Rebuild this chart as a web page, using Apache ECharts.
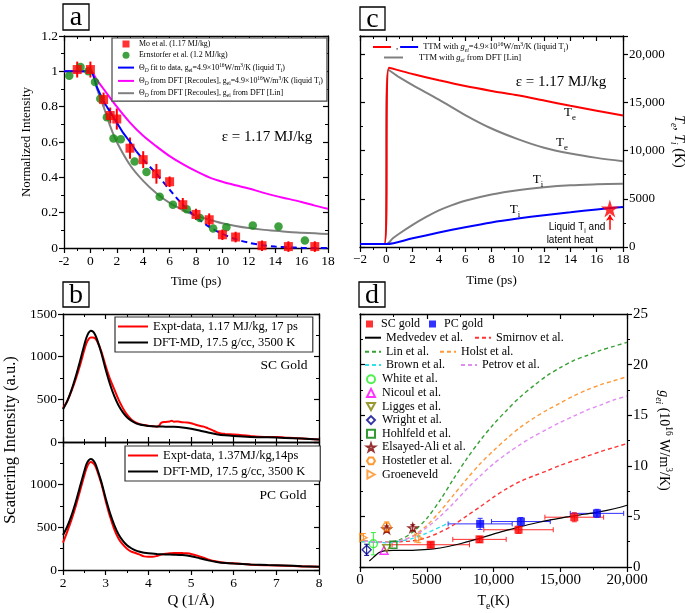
<!DOCTYPE html>
<html><head><meta charset="utf-8">
<script src="https://cdn.jsdelivr.net/npm/echarts@6/dist/echarts.min.js"></script>
<style>html,body{margin:0;padding:0;background:#fff}#c{width:685px;height:613px}</style>
</head><body><div id="c"></div>
<script>
// ================= DATA =================
// Panel a: normalized intensity vs time
const aMoX = [-1,0,1,1.5,2,3,4,5,6,7,8,9,10,11,13,15,17];
const aMoY = [1.01,1.01,0.84,0.75,0.73,0.565,0.50,0.42,0.375,0.245,0.19,0.16,0.075,0.062,0.013,0.008,0.008];
const aMoErr = [0.045,0.045,0.04,0.045,0.06,0.06,0.048,0.056,0.03,0.038,0.032,0.036,0.03,0.03,0.03,0.03,0.03];
const aErnX = [-1.6,-0.75,-0.15,0.35,0.75,1.25,1.75,2.3,3.35,4.25,5.25,6.25,7.3,8.3,9.3,10.3,12.3,14.25,16.25];
const aErnY = [0.975,1.025,1.0,0.94,0.845,0.74,0.62,0.615,0.49,0.43,0.29,0.245,0.22,0.17,0.11,0.117,0.128,0.122,0.043];
const aFitX = [-2,0,0.5,1,1.5,2,2.5,3,3.5];
const aFitY = [1,1,0.91,0.83,0.77,0.71,0.65,0.6,0.545];
const aFitDX = [3.5,4,5,6,7,8,9,10,11,12,13,14,15,16,17,18];
const aFitDY = [0.545,0.5,0.42,0.33,0.245,0.175,0.12,0.08,0.05,0.03,0.016,0.008,0.004,0.001,0,0];
const aMagX = [-2,0,0.5,1,2,3,4,5,6,7,8,9,10,11,12,13,14,15,16,17,18];
const aMagY = [1,1,0.95,0.9,0.8,0.71,0.635,0.575,0.52,0.475,0.435,0.4,0.375,0.355,0.337,0.315,0.295,0.278,0.26,0.24,0.222];
const aGrayX = [-2,0,0.5,1,1.5,2,3,4,5,6,7,8,9,10,11,12,13,14,15,16,17,18];
const aGrayY = [1,1,0.9,0.8,0.69,0.6,0.47,0.38,0.31,0.255,0.215,0.183,0.16,0.14,0.125,0.113,0.104,0.097,0.091,0.087,0.083,0.079];

// Panel c: temperatures vs time
const cTeX = [-2,-0.15,0.2,2,4,6,8,10,12,14,16,18];
const cTeY = [300,300,18600,17950,17300,16700,16200,15750,15200,14650,14150,13650];
const cTiX = [-2,0,2,4,6,8,10,12,14,16,18];
const cTiY = [300,300,900,1500,2050,2550,2950,3300,3600,3900,4150];
const cGTeX = [-2,-0.15,0.15,1,2,4,6,8,10,12,14,16,18];
const cGTeY = [300,300,18400,17600,16800,15300,13700,12300,11200,10300,9700,9250,8900];
const cGTiX = [-2,0,0.5,1,2,3,4,5,6,8,10,12,14,16,18];
const cGTiY = [300,300,900,1400,2300,3100,3800,4350,4800,5450,5900,6200,6400,6500,6570];
const cStar = [[17,4000]];
const cArrow = [[17,1800],[17,3350]];

// Panel b: scattering intensity vs Q
const bDftX = [2,2.1,2.2,2.3,2.4,2.5,2.55,2.6,2.65,2.7,2.75,2.8,2.9,3,3.1,3.2,3.3,3.4,3.5,3.6,3.7,3.8,3.9,4,4.2,4.4,4.6,4.8,5,5.2,5.4,5.6,5.8,6,6.4,6.8,7.2,7.6,8];
const bSCdftY = [385,480,610,770,950,1140,1225,1280,1305,1295,1260,1200,1040,850,680,540,430,350,290,250,222,205,195,188,182,180,178,170,155,135,112,92,78,70,60,55,48,40,30];
const bPCdftY = [410,510,640,800,980,1160,1240,1285,1300,1290,1255,1190,1030,840,670,530,420,345,290,255,230,213,202,195,188,183,180,175,162,138,113,95,82,75,65,58,52,45,38];
const bSCexpX = [2,2.1,2.2,2.3,2.4,2.5,2.55,2.6,2.65,2.7,2.75,2.8,2.9,3,3.1,3.2,3.3,3.4,3.5,3.6,3.7,3.8,3.9,4,4.1,4.2,4.25,4.3,4.4,4.5,4.55,4.6,4.7,4.8,4.9,5,5.1,5.2,5.3,5.4,5.5,5.6,5.7,5.8,6,6.2,6.4,6.6,6.8,7,7.2,7.4,7.6,7.8,8];
const bSCexpY = [395,480,600,740,900,1080,1160,1205,1225,1225,1215,1180,1060,890,740,620,500,400,320,265,230,210,198,190,185,180,190,225,235,240,248,238,240,232,228,220,205,190,180,160,140,115,100,95,88,80,70,62,58,58,52,48,42,35,28];
const bPCexpX = [2,2.1,2.2,2.3,2.4,2.5,2.55,2.6,2.65,2.7,2.75,2.8,2.9,3,3.1,3.2,3.3,3.4,3.5,3.6,3.7,3.8,3.9,4,4.1,4.2,4.3,4.4,4.5,4.6,4.7,4.8,4.9,5,5.2,5.4,5.6,5.8,6,6.4,6.8,7.2,7.6,8];
const bPCexpY = [320,450,590,750,930,1110,1190,1245,1265,1255,1225,1165,1010,810,630,480,370,300,250,215,200,180,160,155,155,165,180,190,195,200,200,198,195,188,160,125,100,85,78,62,55,50,42,38];

// Panel d: g_ei vs Te
const dMedX = [700,1000,1400,1800,2500,3500,4500,5500,6500,7500,8500,9500,10500,11500,12500,13500,14500,15500,16500,17500,18500,19500,20000];
const dMedY = [0.6,0.95,1.4,1.6,1.65,1.65,1.7,1.8,2.0,2.3,2.65,3.05,3.45,3.8,4.15,4.45,4.7,4.95,5.15,5.35,5.6,5.9,6.1];
const dX = [300,1000,2000,3000,4000,5000,6000,7000,8000,9000,10000,11000,12000,13000,14000,15000,16000,17000,18000,19000,20000];
const dSmirY = [2.55,2.5,2.45,2.5,2.6,2.9,3.45,4.15,5.05,5.95,6.9,7.75,8.45,9.0,9.5,10.05,10.5,10.95,11.4,11.8,12.2];
const dLinY = [2.55,2.5,2.45,2.7,3.5,4.8,6.6,8.7,10.7,12.5,14.1,15.5,16.8,17.9,18.9,19.7,20.4,20.9,21.4,21.8,22.2];
const dHolstY = [2.55,2.5,2.45,2.6,3.1,4.1,5.5,7.1,8.7,10.2,11.5,12.7,13.8,14.7,15.5,16.2,16.9,17.5,18.0,18.4,18.8];
const dPetrovY = [2.55,2.5,2.45,2.6,3.05,3.9,5.0,6.3,7.7,9.0,10.2,11.2,12.1,12.9,13.6,14.3,14.9,15.5,16.0,16.5,16.9];
const dBrownX = [100,1000,2000,3000,4000,5000,6000,6700];
const dBrownY = [2.5,2.45,2.4,2.55,2.85,3.35,3.95,4.4];
const dSCX = [5300,8950,11875,16050];
const dSCY = [2.2,2.73,3.68,4.92];
const dSCXerr = [2900,2000,2600,2200];
const dSCYerr = [0.25,0.3,0.35,0.45];
const dPCX = [9000,12050,17750];
const dPCY = [4.26,4.49,5.3];
const dPCXerr = [2400,2200,2000];
const dPCYerr = [0.55,0.4,0.4];
const dWhiteX = [1000], dWhiteY = [2.3], dWhiteErr = [1.1];
const dNicoulX = [1800], dNicoulY = [1.65];
const dLiggesX = [2000], dLiggesY = [1.85];
const dWrightX = [500], dWrightY = [1.7], dWrightErr = [0.55];
const dHohlX = [2500], dHohlY = [2.2];
const dElsX = [2000,3950], dElsY = [3.75,3.87], dElsErr = [0.3,0.3];
const dHostX = [2000], dHostY = [3.95], dHostErr = [0.5];
const dGroenX = [250,4400], dGroenY = [2.9,2.85], dGroenErr = [0.4,0.45];

// Legend texts
const LBL = {
  aMo: 'Mo et al. (1.17 MJ/kg)',
  aErn: 'Ernstorfer et al. (1.2 MJ/kg)',
  aFit: 'Θ&{D} fit to data, g_{ei}=4.9×10^{16}W/m^{3}/K (liquid T_{i})',
  aMag: 'Θ&{D} from DFT [Recoules], g_{ei}=4.9×10^{16}W/m^{3}/K (liquid T_{i})',
  aGray: 'Θ&{D} from DFT [Recoules], g_{ei} from DFT [Lin]',
  cTi: 'TTM with %{g}&{ei}=4.9×10^{16}W/m^{3}/K (liquid T_{i})',
  cGTe: 'TTM with %{g}&{ei} from DFT [Lin]',
  bSCexp: 'Expt-data, 1.17 MJ/kg, 17 ps',
  bSCdft: 'DFT-MD, 17.5 g/cc, 3500 K',
  bPCexp: 'Expt-data, 1.37MJ/kg,14ps',
  bPCdft: 'DFT-MD, 17.5 g/cc, 3500 K'
};

// ================= HELPERS =================
const SERIF = "'Liberation Serif','Times New Roman',serif";
const SANS = "'Liberation Sans',Arial,sans-serif";
const zip = (xs, ys) => xs.map((x, i) => [x, ys[i]]);

function rt(s){
  let out='', buf='', i=0;
  const fl=()=>{ if(buf){ out+='{n|'+buf+'}'; buf=''; } };
  const map={'_':'sub','^':'sup','%':'it','&':'isub'};
  while(i<s.length){
    const c=s[i];
    if(map[c] && s[i+1]==='{'){
      fl(); const j=s.indexOf('}',i); out+='{'+map[c]+'|'+s.slice(i+2,j)+'}'; i=j+1;
    } else { buf+=c; i++; }
  }
  fl(); return out;
}
function mkRich(fs, fam, color, lh, gap){
  fam=fam||SERIF; color=color||'#000'; lh=lh||Math.round(fs*1.45);
  const s=fs*0.68;
  return {
    n:{fontSize:fs,fontFamily:fam,lineHeight:lh,color:color},
    it:{fontSize:fs,fontFamily:fam,fontStyle:'italic',lineHeight:lh,color:color},
    sub:{fontSize:s,fontFamily:fam,verticalAlign:'bottom',color:color},
    isub:{fontSize:s,fontFamily:fam,fontStyle:'italic',verticalAlign:'bottom',color:color},
    sup:{fontSize:s,fontFamily:fam,verticalAlign:'top',color:color},
    gap:{width:gap||11,fontSize:fs,lineHeight:lh}
  };
}
const fmtK = v => v>=10000 ? (v/1000)+',000' : ''+v;
const plain = v => ''+v;

function ax(o){
  return {
    type:'value', gridIndex:o.g, min:o.min, max:o.max, interval:o.interval, position:o.pos,
    splitLine:{show:false},
    axisLine:{show:true,onZero:false,lineStyle:{color:'#000',width:1.3}},
    axisTick:{show:true,inside:!!o.inside,length:5,lineStyle:{color:'#000',width:1.2}},
    minorTick:{show:true,splitNumber:2,length:3,lineStyle:{color:'#000',width:1}},
    axisLabel:{show:!!o.labels,color:'#000',fontFamily:SERIF,fontSize:o.fs||13,margin:o.margin||6,formatter:o.fmt||plain,showMinLabel:true,showMaxLabel:true,hideOverlap:false},
    name:o.name||'', nameLocation:'middle', nameGap:o.nameGap||0, nameRotate:o.nameRotate,
    nameTextStyle:{color:'#000',fontFamily:SERIF,fontSize:o.nfs||13,rich:o.nrich}
  };
}
function errSeries(data, color, xi, yi, cap, w){
  return {type:'custom', xAxisIndex:xi, yAxisIndex:yi, data:data, encode:{x:0,y:1}, z:1, silent:true,
    renderItem:function(p, api){
      const x=api.value(0), y=api.value(1), ex=api.value(2), ey=api.value(3);
      const st={stroke:color,lineWidth:w,fill:null};
      const ch=[];
      const L=(x1,y1,x2,y2)=>ch.push({type:'line',shape:{x1:x1,y1:y1,x2:x2,y2:y2},style:st});
      if(ey>0){const a=api.coord([x,y-ey]), b=api.coord([x,y+ey]); L(a[0],a[1],b[0],b[1]);
        if(cap){L(a[0]-cap,a[1],a[0]+cap,a[1]);L(b[0]-cap,b[1],b[0]+cap,b[1]);}}
      if(ex>0){const a=api.coord([x-ex,y]), b=api.coord([x+ex,y]); L(a[0],a[1],b[0],b[1]);
        if(cap){L(a[0],a[1]-cap,a[0],a[1]+cap);L(b[0],b[1]-cap,b[0],b[1]+cap);}}
      return {type:'group',children:ch};
    }};
}
function lineS(name, xs, ys, xi, yi, color, width, type, smooth){
  return {name:name, type:'line', xAxisIndex:xi, yAxisIndex:yi, data:zip(xs,ys), symbol:'none',
    smooth:smooth||0, itemStyle:{color:color}, lineStyle:{color:color,width:width,type:type||'solid'}, z:3, animation:false};
}
function openS(name, xs, ys, symbol, color, size){
  return {name:name, type:'scatter', xAxisIndex:8, yAxisIndex:8, data:zip(xs,ys), symbol:symbol, symbolSize:size||8, symbolKeepAspect:true,
    itemStyle:{color:'rgba(255,255,255,0)',borderColor:color,borderWidth:1.4}, z:6};
}
const STAR='path://M50,0 L61,35 L98,35 L68,57 L79,91 L50,70 L21,91 L32,57 L2,35 L39,35 Z';
const HEX='path://M25,0 L75,0 L100,43 L75,86 L25,86 L0,43 Z';
const SQ='path://M0,0 L10,0 L10,10 L0,10 Z';
const TRI_DOWN='path://M0,0 L10,0 L5,9 Z';
const TRI_RIGHT='path://M0,0 L9,5 L0,10 Z';
const errData = (xs, ys, ex, ey) => xs.map((x,i)=>[x, ys[i], ex?ex[i]:0, ey?ey[i]:0]);
const LI = n => ({name:n, itemStyle:{opacity:0}});   // legend entry for a line (no centre symbol)

function T(x,y,text,fs,extra){
  return {type:'text',x:x,y:y,z:50,style:Object.assign({text:text,fontFamily:SERIF,fontSize:fs,fill:'#000',
    align:'center',verticalAlign:'middle',textAlign:'center',textVerticalAlign:'middle'},extra||{})};
}
function RT(x,y,s,fs,fam,color){
  return {type:'text',x:x,y:y,z:50,style:{text:rt(s),rich:mkRich(fs,fam,color),align:'center',verticalAlign:'middle',textAlign:'center',textVerticalAlign:'middle'}};
}
function box(x,y,w,h,letter){
  return [{type:'rect',z:50,shape:{x:x,y:y,width:w,height:h},style:{fill:'#fff',stroke:'#000',lineWidth:1.3}},
          T(x+w/2,y+h/2+1,letter,28)];
}
const dLegText = {color:'#000',fontFamily:SERIF,fontSize:12};

// ================= OPTION =================
const chart = echarts.init(document.getElementById('c'), null, {renderer:'canvas'});
const option = {
  animation:false,
  backgroundColor:'#fff',
  textStyle:{fontFamily:SERIF},
  grid:[
    {left:64,top:36,width:264,height:212,outerBoundsMode:'none'},
    {left:360,top:36,width:263,height:211,outerBoundsMode:'none'},
    {left:63,top:314,width:256,height:128,outerBoundsMode:'none'},
    {left:63,top:442,width:256,height:128,outerBoundsMode:'none'},
    {left:360,top:314,width:267,height:253,outerBoundsMode:'none'}
  ],
  xAxis:[
    ax({g:0,pos:'bottom',min:-2,max:18,interval:2,labels:true,fs:13.5,name:'Time (ps)',nameGap:27,nfs:13}),
    ax({g:0,pos:'top',min:-2,max:18,interval:2,inside:true}),
    ax({g:1,pos:'bottom',min:-2,max:18,interval:2,labels:true,fs:13,fmt:v=>v<0?'\u2212'+(-v):''+v,name:'Time (ps)',nameGap:27,nfs:13}),
    ax({g:1,pos:'top',min:-2,max:18,interval:2,inside:true}),
    ax({g:2,pos:'bottom',min:2,max:8,interval:1,inside:true}),
    ax({g:2,pos:'top',min:2,max:8,interval:1,inside:true}),
    ax({g:3,pos:'bottom',min:2,max:8,interval:1,labels:true,fs:13.5,name:'Q (1/Å)',nameGap:24,nfs:15}),
    ax({g:3,pos:'top',min:2,max:8,interval:1,inside:true}),
    ax({g:4,pos:'bottom',min:0,max:20000,interval:5000,labels:true,fs:15,fmt:fmtK,name:rt('T_{e}(K)'),nameGap:24,nrich:mkRich(14)}),
    ax({g:4,pos:'top',min:0,max:20000,interval:5000,inside:true})
  ],
  yAxis:[
    ax({g:0,pos:'left',min:0,max:1.2,interval:0.2,labels:true,fs:13.5,fmt:v=>''+Math.round(v*10)/10,name:'Normalized Intensity',nameGap:31,nfs:13}),
    ax({g:0,pos:'right',min:0,max:1.2,interval:0.2,inside:true}),
    ax({g:1,pos:'right',min:0,max:21900,interval:5000,labels:true,fs:13,fmt:v=>(v%5000)?'':fmtK(v),name:rt('%{T}&{e}, %{T}&{i} (K)'),nameGap:46,nameRotate:-90,nrich:mkRich(14)}),
    ax({g:1,pos:'left',min:0,max:21900,interval:5000,inside:true}),
    ax({g:2,pos:'left',min:0,max:1500,interval:500,labels:true,fs:13.5}),
    ax({g:2,pos:'right',min:0,max:1500,interval:500,inside:true}),
    ax({g:3,pos:'left',min:0,max:1500,interval:500,labels:true,fs:13.5,fmt:v=>v>=1500?'':''+v}),
    ax({g:3,pos:'right',min:0,max:1500,interval:500,inside:true}),
    ax({g:4,pos:'right',min:0,max:25,interval:5,labels:true,fs:15,name:rt('%{g}&{ei} (10^{16} W/m^{3}/K)'),nameGap:27,nameRotate:-90,nrich:mkRich(14)}),
    ax({g:4,pos:'left',min:0,max:25,interval:5,inside:true})
  ],
  legend:[
    {data:[{name:'aMo',icon:SQ},'aErn',LI('aFit'),LI('aMag'),LI('aGray')], orient:'vertical', left:112, top:38, padding:[2,4,3,5], itemGap:3.3,
     itemWidth:16, itemHeight:7, symbolKeepAspect:true, borderColor:'#444', borderWidth:1.2, backgroundColor:'#fff',
     formatter:n=>rt(LBL[n]), textStyle:{color:'#000',fontFamily:SERIF,fontSize:7.9,rich:mkRich(7.9,SERIF,'#000',10)}},
    {data:[LI('cTe'),LI('cTi')], orient:'horizontal', left:372, top:41, padding:0, itemGap:1, itemWidth:18, itemHeight:6,
     formatter:n=>n==='cTe'?'{n|,}':rt(LBL[n]), textStyle:{color:'#000',rich:mkRich(8.5,SERIF,'#000',12)}},
    {data:[LI('cGTe')], orient:'horizontal', left:383, top:53, padding:0, itemWidth:19, itemHeight:6,
     formatter:n=>'{gap| }'+rt(LBL[n]), textStyle:{color:'#000',rich:mkRich(8.5,SERIF,'#000',12,11)}},
    {data:[LI('bSCexp'),LI('bSCdft')], orient:'vertical', left:115, top:317, padding:[3,15,3,2], itemGap:3, itemWidth:30, itemHeight:8,
     borderColor:'#333', borderWidth:1.2, backgroundColor:'#fff', formatter:n=>LBL[n], textStyle:{color:'#000',fontFamily:SERIF,fontSize:12.5}},
    {data:[LI('bPCexp'),LI('bPCdft')], orient:'vertical', left:125, top:446, padding:[3,15,3,2], itemGap:3, itemWidth:30, itemHeight:8,
     borderColor:'#333', borderWidth:1.2, backgroundColor:'#fff', formatter:n=>LBL[n], textStyle:{color:'#000',fontFamily:SERIF,fontSize:12.5}},
    {data:['SC gold','PC gold'], orient:'horizontal', left:366, top:318, padding:0, itemGap:9, itemWidth:7, itemHeight:7, symbolKeepAspect:true,
     formatter:n=>'{gap| }{t|'+n+'}', textStyle:{color:'#000',rich:{gap:{width:3,fontSize:12},t:{fontSize:12,fontFamily:SERIF,color:'#000'}}}},
    {data:[LI('Medvedev et al.'),LI('Smirnov et al.')], orient:'horizontal', left:364, top:331.7, padding:0, itemGap:11, itemWidth:16, itemHeight:7, textStyle:dLegText},
    {data:[LI('Lin et al.'),LI('Holst et al.')], orient:'horizontal', left:364, top:345.7, padding:0, itemGap:10, itemWidth:16, itemHeight:7, textStyle:dLegText},
    {data:[LI('Brown et al.'),LI('Petrov et al.')], orient:'horizontal', left:364, top:359, padding:0, itemGap:15, itemWidth:16, itemHeight:7, textStyle:dLegText},
    {data:['White et al.','Nicoul et al.','Ligges et al.','Wright et al.','Hohlfeld et al.','Elsayed-Ali et al.','Hostetler et al.','Groeneveld'],
     orient:'vertical', left:366, top:373.3, padding:0, itemGap:1.6, itemWidth:8, itemHeight:8, symbolKeepAspect:true,
     formatter:n=>'{gap| }{t|'+n+'}', textStyle:{color:'#000',rich:{gap:{width:2,fontSize:12},t:{fontSize:12,fontFamily:SERIF,color:'#000'}}}}
  ],
  series:[
    // ---- panel a
    lineS('aGray', aGrayX, aGrayY, 0, 0, '#808080', 2, 'solid', 0.3),
    lineS('aMag', aMagX, aMagY, 0, 0, '#ff00ff', 2, 'solid', 0.3),
    lineS('aFit', aFitX, aFitY, 0, 0, '#0000ff', 2, 'solid', 0.2),
    lineS('aFitD', aFitDX, aFitDY, 0, 0, '#0000ff', 2, [6,4], 0.3),
    errSeries(errData(aMoX,aMoY,null,aMoErr), '#ff0000', 0, 0, 0, 2),
    {name:'aErn', type:'scatter', xAxisIndex:0, yAxisIndex:0, data:zip(aErnX,aErnY), symbol:'circle', symbolSize:8.5, symbolKeepAspect:true, itemStyle:{color:'#0f8a0f'}, z:4},
    {name:'aMo', type:'scatter', xAxisIndex:0, yAxisIndex:0, data:zip(aMoX,aMoY), symbol:'rect', symbolSize:9, symbolKeepAspect:true, itemStyle:{color:'#ff0000'}, z:5},
    // ---- panel c
    lineS('cGTi', cGTiX, cGTiY, 2, 2, '#808080', 2, 'solid', 0.3),
    lineS('cGTe', cGTeX, cGTeY, 2, 2, '#808080', 2, 'solid', 0.3),
    lineS('cTe', cTeX, cTeY, 2, 2, '#ff0000', 2, 'solid', 0.2),
    lineS('cTi', cTiX, cTiY, 2, 2, '#0000ff', 2, 'solid', 0.3),
    {name:'cStar', type:'scatter', xAxisIndex:2, yAxisIndex:2, data:cStar, symbol:STAR, symbolSize:18, itemStyle:{color:'#ff0000'}, z:6,
     markLine:{silent:true, symbol:['none','arrow'], symbolSize:6, label:{show:false},
       lineStyle:{color:'#ff0000',width:1.5,type:'solid'},
       data:[[{coord:cArrow[0]},{coord:cArrow[1]}]]}},
    // ---- panel b
    lineS('bSCexp', bSCexpX, bSCexpY, 4, 4, '#ff0000', 2, 'solid', 0.3),
    lineS('bSCdft', bDftX, bSCdftY, 4, 4, '#000000', 2, 'solid', 0.3),
    lineS('bPCexp', bPCexpX, bPCexpY, 6, 6, '#ff0000', 2, 'solid', 0.3),
    lineS('bPCdft', bDftX, bPCdftY, 6, 6, '#000000', 2, 'solid', 0.3),
    // ---- panel d
    lineS('Medvedev et al.', dMedX, dMedY, 8, 8, '#000000', 1.2, 'solid', 0.3),
    lineS('Smirnov et al.', dX, dSmirY, 8, 8, '#ff3333', 1.4, [4,3], 0.3),
    lineS('Lin et al.', dX, dLinY, 8, 8, '#34a034', 1.4, [4,3], 0.3),
    lineS('Holst et al.', dX, dHolstY, 8, 8, '#ff9a3a', 1.4, [4,3], 0.3),
    lineS('Brown et al.', dBrownX, dBrownY, 8, 8, '#2ee0e8', 1.4, [4,3], 0.3),
    lineS('Petrov et al.', dX, dPetrovY, 8, 8, '#e08cf2', 1.4, [4,3], 0.3),
    errSeries(errData(dSCX,dSCY,dSCXerr,dSCYerr), '#ff2a2a', 8, 8, 2.5, 1),
    errSeries(errData(dPCX,dPCY,dPCXerr,dPCYerr), '#3030ff', 8, 8, 2.5, 1),
    errSeries(errData(dWhiteX,dWhiteY,null,dWhiteErr), '#33ee33', 8, 8, 2.5, 1),
    errSeries(errData(dWrightX,dWrightY,null,dWrightErr), '#000090', 8, 8, 2.5, 1),
    errSeries(errData(dElsX,dElsY,null,dElsErr), '#800000', 8, 8, 2.5, 1),
    errSeries(errData(dHostX,dHostY,null,dHostErr), '#ff8000', 8, 8, 2.5, 1),
    errSeries(errData(dGroenX,dGroenY,null,dGroenErr), '#ff8c1a', 8, 8, 2.5, 1),
    {name:'SC gold', type:'scatter', xAxisIndex:8, yAxisIndex:8, data:zip(dSCX,dSCY), symbol:'rect', symbolSize:8, symbolKeepAspect:true, itemStyle:{color:'#ff0000'}, z:6},
    {name:'PC gold', type:'scatter', xAxisIndex:8, yAxisIndex:8, data:zip(dPCX,dPCY), symbol:'rect', symbolSize:8, symbolKeepAspect:true, itemStyle:{color:'#0000ff'}, z:6},
    openS('White et al.', dWhiteX, dWhiteY, 'circle', '#22ee22', 8),
    openS('Nicoul et al.', dNicoulX, dNicoulY, 'triangle', '#ff00ff', 8),
    openS('Ligges et al.', dLiggesX, dLiggesY, TRI_DOWN, '#808000', 8),
    openS('Wright et al.', dWrightX, dWrightY, 'diamond', '#000090', 9),
    openS('Hohlfeld et al.', dHohlX, dHohlY, 'rect', '#008000', 7),
    openS('Elsayed-Ali et al.', dElsX, dElsY, STAR, '#800000', 9),
    openS('Hostetler et al.', dHostX, dHostY, HEX, '#ff8000', 9),
    openS('Groeneveld', dGroenX, dGroenY, TRI_RIGHT, '#ff8c1a', 8)
  ],
  graphic:[].concat(
    box(63,4,26,26,'a'), box(360,7,25,23,'c'), box(63,282,26,25,'b'), box(359,282,26,25,'d'),
    [
      T(267,137,'ε = 1.17 MJ/kg',15),
      T(561,82,'ε = 1.17 MJ/kg',15),
      RT(570,113,'T_{e}',13,SERIF,'#ff0000'),
      RT(562,143,'T_{e}',13,SERIF,'#808080'),
      RT(538,180,'T_{i}',13,SERIF,'#808080'),
      RT(515,210,'T_{i}',13,SERIF,'#0000ff'),
      RT(577,227,'Liquid T_{i} and',10,SANS,'#ff2020'),
      RT(570,240,'latent heat',10,SANS,'#ff2020'),
      T(284,365,'SC Gold',13.5),
      T(283,495,'PC Gold',13.5),
      Object.assign(T(11,440,'Scattering Intensity (a.u.)',16.5),{rotation:Math.PI/2})
    ]
  )
};
chart.setOption(option);
</script>
</body></html>
